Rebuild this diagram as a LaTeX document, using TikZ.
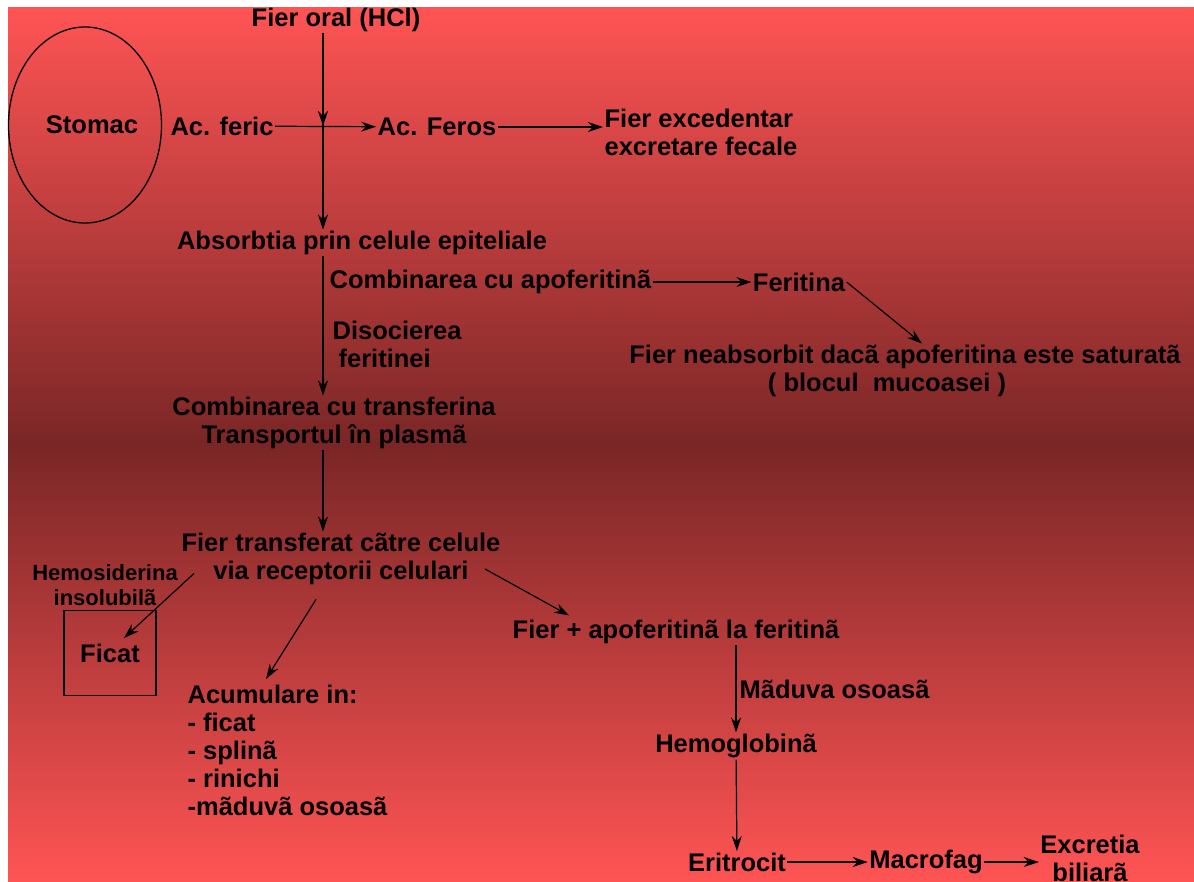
\documentclass[tikz,border=0pt]{standalone}
\usepackage{fontspec}
\setmainfont{Liberation Sans}
\usetikzlibrary{arrows.meta,shapes.geometric}
\definecolor{bglight}{HTML}{FF5454}
\definecolor{bgdark}{HTML}{7A2626}

\begin{document}
\begin{tikzpicture}[x=1pt,y=-1pt,->,>={Stealth[length=15pt,width=10pt]},line width=1.2pt,
                    every node/.style={font=\bfseries\fontsize{25.5}{28}\selectfont,inner sep=1pt}]
  \tikzstyle{txt}=[align=center]
  \tikzstyle{small}=[align=center,font=\bfseries\fontsize{22}{25}\selectfont]
  \tikzstyle{organ}=[draw,line width=1.3pt]

  % background
  \useasboundingbox (0,0) rectangle (1194,881);
  \fill[white] (0,0) rectangle (1194,881);
  \shade[top color=bglight,bottom color=bglight,middle color=bgdark] (8,7) rectangle (1194,881);

  % stomach and intake
  \node[organ,ellipse,minimum width=153pt,minimum height=196pt] (stomach) at (85,125) {\hspace*{14pt}Stomac};
  \node (oral)   at (336,20)  {Fier oral (HCl)};
  \node (feric)  at (222,126) {Ac. feric};
  \node (feros)  at (437,127) {Ac. Feros};
  \node[align=left,anchor=west] (fecal) at (603,132) {Fier excedentar\\excretare fecale};
  \coordinate (cross) at (323,126);

  % absorption
  \node (absorb) at (362,243) {Absorbtia prin celule epiteliale};
  \node[anchor=west] (combo) at (328,282) {Combinarea cu apoferitinã};
  \node (feritina) at (799,282) {Feritina};
  \node[txt] (neabs) at (905,371) {Fier neabsorbit dacã apoferitina este saturatã\\( blocul\ \ mucoasei )\hspace*{36pt}};
  \node[align=left,anchor=west] (disoc) at (331,344) {Disocierea\\\hspace*{6pt}feritinei};
  \node[txt] (transf) at (334,423) {Combinarea cu transferina\\Transportul în plasmã};

  % transfer to cells
  \node[txt] (cells) at (341,559) {Fier transferat cãtre celule\\ via receptorii celulari};
  \node[small] (hemos) at (105,585) {Hemosiderina\\insolubilã};
  \node[organ,minimum width=92pt,minimum height=85pt] (ficat) at (110,653) {Ficat};
  \node[align=left,anchor=north west] (accum) at (186,683)
       {Acumulare in:\\- ficat\\- splinã\\- rinichi\\-mãduvã osoasã};
  \node (apo)   at (676,632) {Fier + apoferitinã la feritinã};
  \node (hemo)  at (736,746) {Hemoglobinã};
  \node (eri)   at (737,862) {Eritrocit};
  \node (macro) at (926,862) {Macrofag};
  \node[txt] (excr) at (1090,858) {Excretia\\biliarã};

  \path (oral.south -| cross) edge (cross)
        (feric) edge (feros)
        (feros) edge (fecal.west |- feros)
        ([yshift=8pt]cross) edge (absorb.north -| cross)
        (absorb.south -| cross) edge (transf.north -| cross)
        (combo) edge (feritina)
        (feritina.east) edge ([xshift=17pt]neabs.north)
        (transf.south -| cross) edge (cells.north -| cross)
        ([shift={(14,-13)}]cells.south west) edge ([shift={(14,-15)}]ficat.center)
        ([shift={(-25,13)}]cells.south) edge ([shift={(80,-4)}]accum.north west)
        ([shift={(-17,10)}]cells.east) edge ([shift={(58,-3)}]apo.north west)
        (apo.south -| hemo) edge node[right,xshift=2pt] {Mãduva osoasã} (hemo.north)
        (hemo) edge (eri)
        (eri) edge (macro)
        (macro) edge (excr.west |- macro);
\end{tikzpicture}
\end{document}
